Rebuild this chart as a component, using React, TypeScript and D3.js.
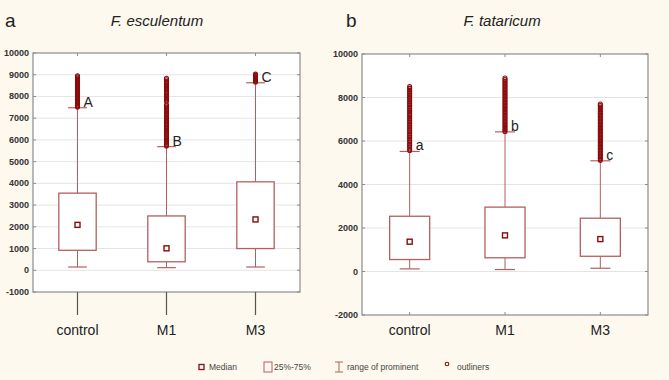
import React, { useEffect } from 'react';
import * as d3 from 'd3';

const categories = ['control', 'M1', 'M3'];

// box statistics per group: [low whisker, Q1, median, Q3, high whisker]
const esculentumStats = [
  [150, 920, 2090, 3550, 7480],
  [120, 390, 1010, 2500, 5690],
  [150, 1000, 2340, 4070, 8630],
];
const tataricumStats = [
  [120, 550, 1370, 2540, 5520],
  [90, 630, 1660, 2960, 6420],
  [150, 700, 1490, 2450, 5090],
];

const esculentumOutliers = [
  [7520, 7560, 7600, 7650, 7700, 7740, 7790, 7830, 7880, 7920, 7970, 8010, 8060, 8100, 8150, 8200,
    8240, 8290, 8330, 8380, 8430, 8470, 8520, 8560, 8610, 8650, 8700, 8750, 8800, 8850, 8900, 8950],
  [5720, 5780, 5850, 5910, 5980, 6050, 6110, 6180, 6240, 6310, 6380, 6440, 6510, 6570, 6640, 6710,
    6770, 6840, 6900, 6970, 7040, 7100, 7170, 7230, 7300, 7370, 7430, 7500, 7560, 7620, 7780, 7840,
    7910, 7980, 8040, 8110, 8170, 8240, 8310, 8370, 8440, 8500, 8570, 8640, 8700, 8770, 8840],
  [8670, 8720, 8770, 8820, 8870, 8920, 8970, 9030],
];
const tataricumOutliers = [
  [5560, 5630, 5710, 5790, 5860, 5940, 6020, 6100, 6170, 6250, 6330, 6410, 6480, 6560, 6640, 6720,
    6790, 6870, 6950, 7030, 7100, 7180, 7260, 7340, 7410, 7490, 7570, 7650, 7720, 7800, 7880, 7960,
    8030, 8110, 8190, 8270, 8340, 8420, 8500],
  [6440, 6510, 6580, 6650, 6720, 6790, 6860, 6930, 7000, 7070, 7140, 7210, 7280, 7350, 7420, 7490,
    7560, 7630, 7700, 7770, 7840, 7910, 7980, 8050, 8120, 8190, 8260, 8330, 8400, 8470, 8540, 8610,
    8680, 8750, 8820, 8900],
  [5110, 5180, 5250, 5320, 5390, 5460, 5530, 5600, 5670, 5740, 5810, 5880, 5950, 6020, 6090, 6160,
    6230, 6300, 6370, 6440, 6510, 6580, 6650, 6720, 6790, 6860, 6930, 7000, 7070, 7140, 7210, 7280,
    7350, 7420, 7490, 7560, 7630, 7700],
];

const esculentumLetters = ['A', 'B', 'C'];
const tataricumLetters = ['a', 'b', 'c'];

const esculentumTicks = d3.range(-1000, 10001, 1000);
const tataricumTicks = d3.range(-2000, 10001, 2000);

const legendLabels = ['Median', '25%-75%', 'range of prominent', 'outliners'];

const BOX = '#b45f5f';
const DARK = '#8b0a0a';
const FRAME = '#8c8c8c';
const FONT = '"Liberation Sans", Arial, sans-serif';

type PanelProps = {
  letter: string;
  letterX: number;
  title: string;
  titleX: number;
  stats: number[][];
  outliers: number[][];
  marks: string[];
  ticks: number[];
  domain: [number, number];
  left: number;
  right: number;
  top: number;
  bottom: number;
  longTicks: boolean;
};

function Panel(p: PanelProps) {
  const x = d3.scaleBand().domain(categories).range([p.left, p.right]);
  const y = d3.scaleLinear().domain(p.domain).range([p.bottom, p.top]);
  const bw = x.bandwidth();
  const boxHalf = bw * 0.21;
  const capHalf = bw * 0.105;
  const cx = (c: string) => (x(c) ?? 0) + bw / 2;

  return (
    <g>
      <text x={p.letterX} y={27} fontSize={19} fontFamily={FONT} fill="#222">{p.letter}</text>
      <text x={p.titleX} y={26} fontSize={15} fontStyle="italic" fontFamily={FONT} fill="#222" textAnchor="middle">{p.title}</text>
      <rect x={p.left} y={p.top} width={p.right - p.left} height={p.bottom - p.top} fill="#fff" />
      {p.ticks.map(t => (
        <g key={t}>
          {t !== p.domain[0] && t !== p.domain[1] && (
            <line x1={p.left} x2={p.right} y1={y(t)} y2={y(t)} stroke="#e4e4e4" strokeWidth={1} />
          )}
          <line x1={p.left} x2={p.left + 3} y1={y(t)} y2={y(t)} stroke={FRAME} />
          <line x1={p.right - 3} x2={p.right} y1={y(t)} y2={y(t)} stroke={FRAME} />
          <text x={p.left - 4} y={y(t) + 3} fontSize={9} fontWeight="bold" fontFamily={FONT} fill="#333" textAnchor="end">{t}</text>
        </g>
      ))}
      <rect x={p.left} y={p.top} width={p.right - p.left} height={p.bottom - p.top} fill="none" stroke={FRAME} strokeWidth={1.2} />
      {categories.map((c, i) => {
        const [lo, q1, med, q3, hi] = p.stats[i];
        const X = cx(c);
        return (
          <g key={c}>
            <line x1={X} x2={X} y1={p.top} y2={p.top + 3} stroke={FRAME} />
            {p.longTicks ? (
              <line x1={X} x2={X} y1={p.bottom} y2={p.bottom + 23} stroke="#555" strokeWidth={1.2} />
            ) : (
              <line x1={X} x2={X} y1={p.bottom - 3} y2={p.bottom} stroke={FRAME} />
            )}
            <line x1={X} x2={X} y1={y(hi)} y2={y(q3)} stroke={BOX} strokeWidth={1} />
            <line x1={X} x2={X} y1={y(q1)} y2={y(lo)} stroke={BOX} strokeWidth={1} />
            <line x1={X - capHalf} x2={X + capHalf} y1={y(hi)} y2={y(hi)} stroke={BOX} strokeWidth={1.2} />
            <line x1={X - capHalf} x2={X + capHalf} y1={y(lo)} y2={y(lo)} stroke={BOX} strokeWidth={1.2} />
            <rect x={X - boxHalf} y={y(q3)} width={boxHalf * 2} height={y(q1) - y(q3)} fill="#fff" stroke={BOX} strokeWidth={1.3} />
            <rect x={X - 2.5} y={y(med) - 2.5} width={5} height={5} fill="#fff" stroke={DARK} strokeWidth={1.4} />
            {p.outliers[i].map(v => (
              <circle key={v} cx={X} cy={y(v)} r={2} fill="none" stroke={DARK} strokeWidth={1.1} />
            ))}
            <text x={X + 6} y={y(hi) - 1} fontSize={14} fontFamily={FONT} fill="#222">{p.marks[i]}</text>
            <text x={X} y={335} fontSize={14} fontFamily={FONT} fill="#222" textAnchor="middle">{c}</text>
          </g>
        );
      })}
    </g>
  );
}

export default function App() {
  useEffect(() => {
    document.body.style.margin = '0';
  }, []);

  return (
    <svg width={669} height={380} style={{ display: 'block', background: '#fdf9ee' }}>
      <Panel
        letter="a" letterX={5} title="F. esculentum" titleX={157}
        stats={esculentumStats} outliers={esculentumOutliers}
        marks={esculentumLetters} ticks={esculentumTicks} domain={[-1000, 10000]}
        left={33} right={300} top={53} bottom={292} longTicks={true}
      />
      <Panel
        letter="b" letterX={346} title="F. tataricum" titleX={502}
        stats={tataricumStats} outliers={tataricumOutliers}
        marks={tataricumLetters} ticks={tataricumTicks} domain={[-2000, 10000]}
        left={362} right={648} top={54} bottom={315} longTicks={false}
      />
      <g fontFamily={FONT} fontSize={8.5} fill="#444">
        <rect x={199} y={364.5} width={5} height={5} fill="#fff" stroke={DARK} strokeWidth={1.3} />
        <text x={209} y={370}>{legendLabels[0]}</text>
        <rect x={264} y={362} width={8} height={10} fill="none" stroke={BOX} strokeWidth={1} />
        <text x={274} y={370}>{legendLabels[1]}</text>
        <line x1={339} x2={339} y1={362} y2={372} stroke={BOX} />
        <line x1={335} x2={343} y1={362} y2={362} stroke={BOX} />
        <line x1={335} x2={343} y1={372} y2={372} stroke={BOX} />
        <text x={347} y={370}>{legendLabels[2]}</text>
        <circle cx={447} cy={364} r={1.8} fill="none" stroke={DARK} strokeWidth={1.1} />
        <text x={457} y={370}>{legendLabels[3]}</text>
      </g>
    </svg>
  );
}
